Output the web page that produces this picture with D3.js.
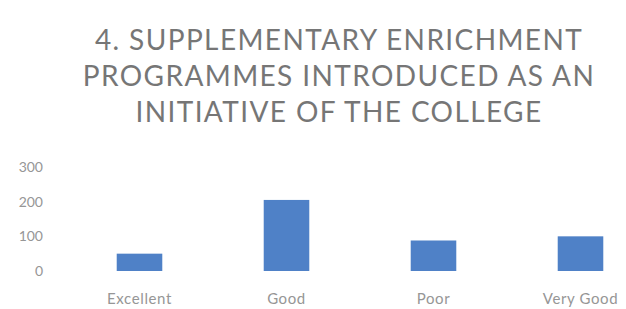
<!DOCTYPE html>
<html><head><meta charset="utf-8">
<script src="https://cdn.jsdelivr.net/npm/d3@7"></script>
<style>body{margin:0;background:#fff}svg{display:block}</style>
</head><body><div id="chart"></div>
<script>
const categories = ["Excellent", "Good", "Poor", "Very Good"];
const values = [50, 205, 88, 100];
const yTicks = [0, 100, 200, 300];
const titleLines = ["4. SUPPLEMENTARY ENRICHMENT", "PROGRAMMES INTRODUCED AS AN", "INITIATIVE OF THE COLLEGE"];

const W = 626, H = 309;
const svg = d3.select("#chart").append("svg").attr("width", W).attr("height", H);
const font = "Lato, 'Open Sans', sans-serif";

const x = d3.scaleBand().domain(categories).range([66, 654]).paddingInner(0.69).paddingOuter(0.345);
const y = d3.scaleLinear().domain([0, 300]).range([271, 167]);

svg.append("g").selectAll("text").data(titleLines).join("text")
  .attr("x", 339).attr("y", (d, i) => 50 + i * 36)
  .attr("text-anchor", "middle").attr("font-family", font).attr("font-size", 28)
  .attr("letter-spacing", 1.4)
  .attr("fill", "#767676").text(d => d);

const yAxis = svg.append("g").attr("transform", "translate(45,0)")
  .call(d3.axisLeft(y).tickValues(yTicks).tickSize(0).tickPadding(2));
yAxis.select(".domain").remove();
yAxis.selectAll("text").attr("font-family", font).attr("font-size", 14).attr("fill", "#969696");

const xAxis = svg.append("g").attr("transform", "translate(0,271)")
  .call(d3.axisBottom(x).tickSize(0).tickPadding(22));
xAxis.select(".domain").remove();
xAxis.selectAll("text").attr("font-family", font).attr("font-size", 15)
  .attr("letter-spacing", 0.6).attr("fill", "#969696");

svg.append("g").selectAll("rect").data(values).join("rect")
  .attr("x", (d, i) => x(categories[i])).attr("width", x.bandwidth())
  .attr("y", d => y(d)).attr("height", d => y(0) - y(d))
  .attr("fill", "#4f81c7");
</script></body></html>
